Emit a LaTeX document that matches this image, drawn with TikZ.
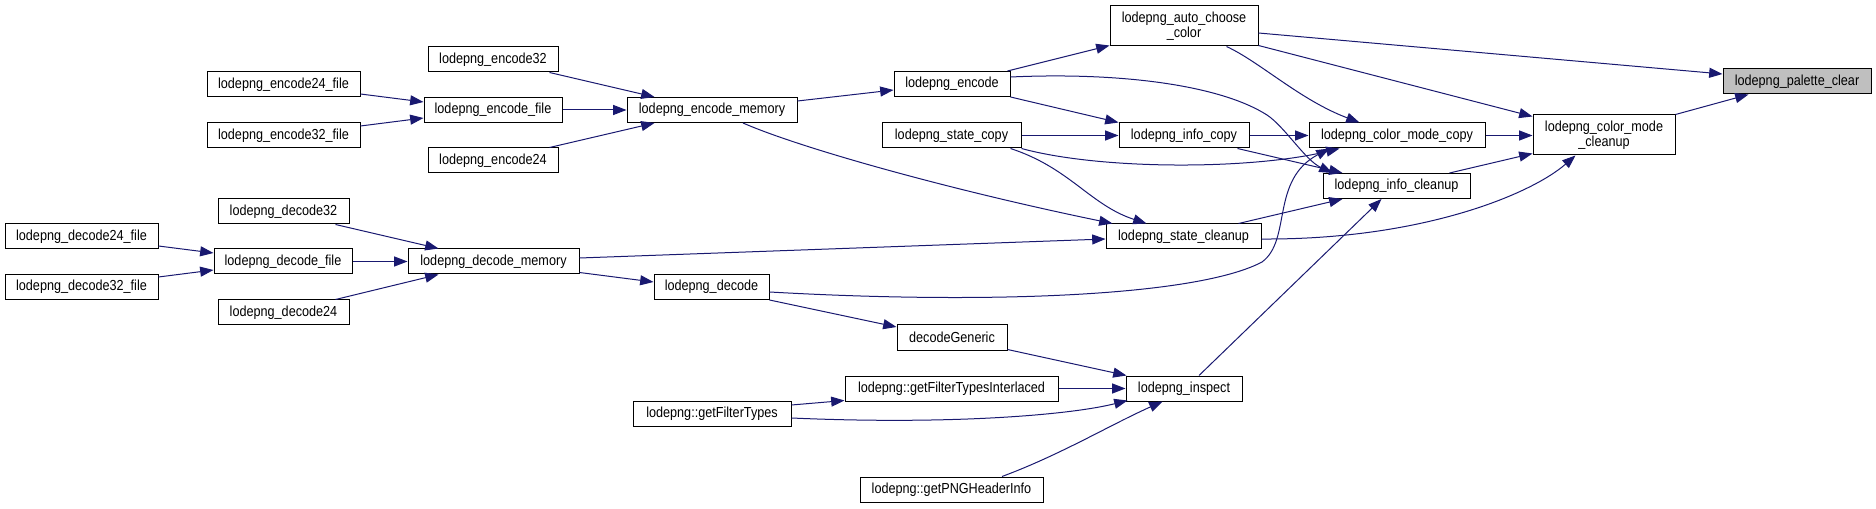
\documentclass[tikz,border=0pt]{standalone}
\usepackage{fontspec}
\setmainfont{Liberation Sans}[FakeStretch=0.87]
\usetikzlibrary{arrows.meta,calc}
\definecolor{edgeblue}{HTML}{191970}
\definecolor{hlgray}{HTML}{BFBFBF}
\begin{document}
\begin{tikzpicture}[x=0.75pt,y=-0.75pt,
  fn/.style={draw=black, line width=0.75pt, fill=white, inner sep=0pt,
    minimum height=18.75pt, align=center, font=\fontsize{10.9}{11.3}\selectfont},
  fn2/.style={fn, minimum height=30pt},
  ed/.style={draw=edgeblue, line width=0.75pt,
    -{Triangle[length=10pt,width=7.5pt,fill=edgeblue]}}]
\useasboundingbox (0,0) rectangle (1876,509);
% nodes
\node[fn, fill=hlgray, minimum width=111pt] (palette) at (1797,81.5) {lodepng\_palette\_clear};
\node[fn2, minimum width=106.5pt] (cmcleanup) at (1604,135) {lodepng\_color\_mode\\\_cleanup};
\node[fn, minimum width=132pt] (cmcopy) at (1397,135.5) {lodepng\_color\_mode\_copy};
\node[fn, minimum width=110.25pt] (infocleanup) at (1396.5,186) {lodepng\_info\_cleanup};
\node[fn2, minimum width=111pt] (ac) at (1184,26) {lodepng\_auto\_choose\\\_color};
\node[fn, minimum width=97.5pt] (infocopy) at (1184,135.5) {lodepng\_info\_copy};
\node[fn, minimum width=116.25pt] (statecleanup) at (1183.5,236.5) {lodepng\_state\_cleanup};
\node[fn, minimum width=87pt] (inspect) at (1184,388.5) {lodepng\_inspect};
\node[fn, minimum width=87pt] (encode) at (952,84) {lodepng\_encode};
\node[fn, minimum width=104.25pt] (statecopy) at (951.5,135.5) {lodepng\_state\_copy};
\node[fn, minimum width=82.5pt] (decgen) at (952,337.5) {decodeGeneric};
\node[fn, minimum width=159.75pt] (gfti) at (951.5,388.5) {lodepng::getFilterTypesInterlaced};
\node[fn, minimum width=137.25pt] (pnghdr) at (951.5,489.5) {lodepng::getPNGHeaderInfo};
\node[fn, minimum width=86.25pt] (decode) at (711.5,287) {lodepng\_decode};
\node[fn, minimum width=118.5pt] (gft) at (712,414) {lodepng::getFilterTypes};
\node[fn, minimum width=127.5pt] (encmem) at (712,110) {lodepng\_encode\_memory};
\node[fn, minimum width=97.5pt] (encode32) at (493,59.5) {lodepng\_encode32};
\node[fn, minimum width=103.5pt] (encfile) at (493,110) {lodepng\_encode\_file};
\node[fn, minimum width=97.5pt] (encode24) at (493,160.5) {lodepng\_encode24};
\node[fn, minimum width=114.75pt] (enc24file) at (283.5,84.5) {lodepng\_encode24\_file};
\node[fn, minimum width=114.75pt] (enc32file) at (283.5,135.5) {lodepng\_encode32\_file};
\node[fn, minimum width=128.25pt] (decmem) at (493.5,261.5) {lodepng\_decode\_memory};
\node[fn, minimum width=98.25pt] (decode32) at (283.5,211.5) {lodepng\_decode32};
\node[fn, minimum width=103.5pt] (decfile) at (283,261.5) {lodepng\_decode\_file};
\node[fn, minimum width=98.25pt] (decode24) at (283.5,312.5) {lodepng\_decode24};
\node[fn, minimum width=114.75pt] (dec24file) at (81.5,236.5) {lodepng\_decode24\_file};
\node[fn, minimum width=114.75pt] (dec32file) at (81.5,287) {lodepng\_decode32\_file};
% edges
\draw[ed] ($(ac.east)+(0,7)$) -- ($(palette.west)+(0,-7.5)$);
\draw[ed] (cmcleanup.north east) -- ($(palette.south west)+(26,0)$);
\draw[ed] ($(ac.south east)+(0,-1)$) -- ($(cmcleanup.north west)+(0,2)$);
\draw[ed] ($(ac.south west)+(117,0)$) .. controls (1260,62) and (1300,100) .. ($(cmcopy.north west)+(51,0)$);
\draw[ed] (cmcopy.east) -- (cmcopy.east -| cmcleanup.west);
\draw[ed] ($(infocleanup.north east)+(-21,0)$) -- ($(cmcleanup.south west)+(0,-2)$);
\draw[ed] ($(statecleanup.east)+(0,2.5)$) .. controls (1420,240) and (1530,195) .. ($(cmcleanup.south west)+(43,0)$);
\draw[ed] ($(encode.north east)+(-3,0)$) -- ($(ac.south west)+(0,-1)$);
\draw[ed] ($(encode.east)+(0,-7)$) .. controls (1120,72) and (1220,85) .. (1267,115) .. controls (1285,127) and (1305,160) .. ($(infocleanup.north west)+(10,0)$);
\draw[ed] (encode.south east) -- (infocopy.north west);
\draw[ed] ($(encmem.north east)+(0,4)$) -- ($(encode.west)+(0,6)$);
\draw[ed] ($(encmem.south)+(31,0)$) .. controls (800,148) and (950,190) .. ($(statecleanup.north west)+(7,0)$);
\draw[ed] (statecopy.east) -- (infocopy.west);
\draw[ed] (statecopy.south east) .. controls (1100,170) and (1250,170) .. ($(cmcopy.south west)+(31,0)$);
\draw[ed] ($(statecopy.south east)+(-11,0)$) .. controls (1070,168) and (1090,205) .. ($(statecleanup.north west)+(41,0)$);
\draw[ed] (infocopy.east) -- (cmcopy.west);
\draw[ed] ($(infocopy.south east)+(-12,0)$) -- ($(infocleanup.north west)+(20,0)$);
\draw[ed] ($(statecleanup.north east)+(-23,0)$) -- ($(infocleanup.south west)+(20,0)$);
\draw[ed] ($(decmem.east)+(0,-3.5)$) -- ($(statecleanup.west)+(0,2.5)$);
\draw[ed] ($(decmem.south east)+(0,-2)$) -- ($(decode.west)+(0,-5)$);
\draw[ed] ($(decode.east)+(0,5)$) .. controls (1000,305) and (1200,295) .. (1262,262) .. controls (1292,240) and (1270,180) .. ($(cmcopy.south west)+(21,0)$);
\draw[ed] (decode.south east) -- ($(decgen.west)+(0,-10.5)$);
\draw[ed] ($(decgen.south east)+(0,-1)$) -- ($(inspect.north west)+(1,0)$);
\draw[ed] (gfti.east) -- (inspect.west);
\draw[ed] ($(gft.north east)+(0,4)$) -- ($(gfti.south west)+(0,-1)$);
\draw[ed] ($(gft.east)+(0,4)$) .. controls (950,425) and (1070,415) .. ($(inspect.south west)+(2,-1)$);
\draw[ed] ($(pnghdr.north)+(50.5,0)$) .. controls (1060,455) and (1110,425) .. ($(inspect.south west)+(37,0)$);
\draw[ed] ($(inspect.north)+(15,0)$) -- ($(infocleanup.south west)+(59,0)$);
\draw[ed] ($(encode32.south east)+(-9,0)$) -- ($(encmem.north west)+(28,0)$);
\draw[ed] (encfile.east) -- (encmem.west);
\draw[ed] ($(encode24.north east)+(-9,0)$) -- ($(encmem.south west)+(28,0)$);
\draw[ed] ($(enc24file.east)+(0,9.5)$) -- ($(encfile.west)+(0,-8)$);
\draw[ed] ($(enc32file.east)+(0,-9.5)$) -- ($(encfile.west)+(0,8)$);
\draw[ed] ($(decode32.south east)+(-14,0)$) -- ($(decmem.north west)+(31,0)$);
\draw[ed] (decfile.east) -- (decmem.west);
\draw[ed] ($(decode24.north east)+(-14,0)$) -- ($(decmem.south west)+(31,0)$);
\draw[ed] ($(dec24file.east)+(0,9.5)$) -- ($(decfile.west)+(0,-8.5)$);
\draw[ed] ($(dec32file.east)+(0,-10)$) -- ($(decfile.west)+(0,8.5)$);
\end{tikzpicture}
\end{document}
